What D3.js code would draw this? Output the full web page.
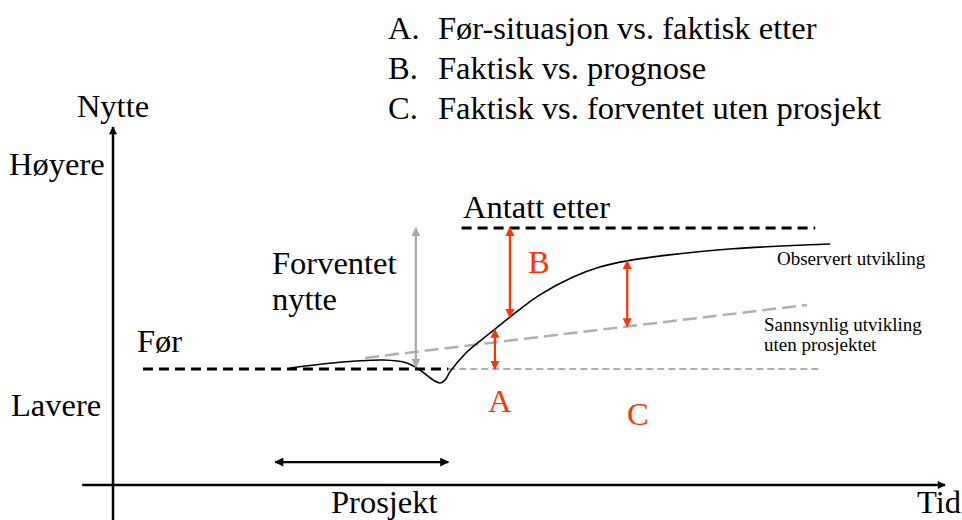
<!DOCTYPE html>
<html><head><meta charset="utf-8">
<script src="https://cdn.jsdelivr.net/npm/d3@7"></script>
<style>
html,body{margin:0;padding:0;background:#fff;}
svg{display:block;}
</style></head>
<body>
<svg id="chart" width="962" height="520"></svg>
<script>
// ---- data (abstract units: time 0..100, nytte 0..100) ----
const legendKeys = ["A.", "B.", "C."];
const legendTexts = ["Før-situasjon vs. faktisk etter", "Faktisk vs. prognose", "Faktisk vs. forventet uten prosjekt"];
const levelFor = 32.4;          // "Før" level
const levelAntatt = 71.8;       // "Antatt etter" level
const forSpan = [3.6, 40.3];
const baselineSpan = [40.3, 85.2];
const antattSpan = [41.9, 84.4];
const observedT = [21.3, 26.4, 32.5, 35.3, 36.9, 38.5, 39.3, 39.9, 40.5, 42.3, 44.1, 46.2, 47.7, 51.3, 55.3, 58.5, 61.8, 66.6, 74.5, 86.2];
const observedV = [32.7, 34.1, 34.9, 34.1, 32.1, 29.3, 28.5, 29.3, 31.6, 36.6, 40.2, 44.1, 46.9, 53.1, 58.1, 60.9, 62.6, 64.2, 66.0, 67.3];
const trendT = [30.3, 83.4];
const trendV = [35.5, 50.3];
const forventetArrow = {t: 36.4, from: 32.9, to: 71.8};
const redArrowT = [45.9, 47.7, 61.8];
const redArrowFrom = [32.4, 46.9, 44.3];
const redArrowTo = [43.4, 71.8, 62.6];
const prosjektSpan = [19.5, 40.3];
const prosjektLevel = 6.4;

// ---- scales ----
const svg = d3.select("#chart");
const x = d3.scaleLinear().domain([0, 100]).range([113, 945]);
const y = d3.scaleLinear().domain([0, 100]).range([485, 127]);

const RED = "#ff3300", GRAY = "#b0b0b0", GRAY_ARROW = "#a8a8a8";
const FONT = "'Liberation Serif', Tinos, 'Times New Roman', Times, 'DejaVu Serif', serif";

// markers
const defs = svg.append("defs");
function marker(id, color, w, h) {
  const m = defs.append("marker").attr("id", id)
    .attr("viewBox", "0 0 10 10").attr("refX", 9).attr("refY", 5)
    .attr("markerUnits", "userSpaceOnUse")
    .attr("markerWidth", w).attr("markerHeight", h)
    .attr("orient", "auto-start-reverse");
  m.append("path").attr("d", "M0,0 L10,5 L0,10 z").attr("fill", color);
}
marker("mBlack", "#000", 11, 9);
marker("mAxis", "#000", 9, 8);
marker("mRed", RED, 11, 9);
marker("mGray", GRAY_ARROW, 11, 9);

// axes
svg.append("line").attr("x1", x(0)).attr("x2", x(0)).attr("y1", y(-10)).attr("y2", y(100))
  .attr("stroke", "#000").attr("stroke-width", 2.5).attr("marker-end", "url(#mAxis)");
svg.append("line").attr("x1", x(-3.7)).attr("x2", x(100)).attr("y1", y(0)).attr("y2", y(0))
  .attr("stroke", "#000").attr("stroke-width", 2.5).attr("marker-end", "url(#mAxis)");

// baseline gray dashed (C reference)
svg.append("line").attr("x1", x(baselineSpan[0])).attr("x2", x(baselineSpan[1]))
  .attr("y1", y(levelFor)).attr("y2", y(levelFor))
  .attr("stroke", GRAY).attr("stroke-width", 2).attr("stroke-dasharray", "7,4");

// trend (sannsynlig utvikling)
svg.append("line").attr("x1", x(trendT[0])).attr("x2", x(trendT[1]))
  .attr("y1", y(trendV[0])).attr("y2", y(trendV[1]))
  .attr("stroke", GRAY).attr("stroke-width", 2.5).attr("stroke-dasharray", "14,6");

// Før dashed
svg.append("line").attr("x1", x(forSpan[0])).attr("x2", x(forSpan[1]))
  .attr("y1", y(levelFor)).attr("y2", y(levelFor))
  .attr("stroke", "#000").attr("stroke-width", 3).attr("stroke-dasharray", "10,6");

// Antatt etter dashed
svg.append("line").attr("x1", x(antattSpan[0])).attr("x2", x(antattSpan[1]))
  .attr("y1", y(levelAntatt)).attr("y2", y(levelAntatt))
  .attr("stroke", "#000").attr("stroke-width", 3).attr("stroke-dasharray", "10,6");

// observed curve
const obs = observedT.map((t, i) => [t, observedV[i]]);
svg.append("path").datum(obs)
  .attr("d", d3.line().x(d => x(d[0])).y(d => y(d[1])).curve(d3.curveCatmullRom.alpha(0.5)))
  .attr("fill", "none").attr("stroke", "#000").attr("stroke-width", 1.6);

// forventet nytte gray arrow
svg.append("line").attr("x1", x(forventetArrow.t)).attr("x2", x(forventetArrow.t))
  .attr("y1", y(forventetArrow.from)).attr("y2", y(forventetArrow.to))
  .attr("stroke", GRAY_ARROW).attr("stroke-width", 2.2)
  .attr("marker-start", "url(#mGray)").attr("marker-end", "url(#mGray)");

// red arrows
redArrowT.forEach((t, i) => {
  svg.append("line").attr("x1", x(t)).attr("x2", x(t))
    .attr("y1", y(redArrowFrom[i])).attr("y2", y(redArrowTo[i]))
    .attr("stroke", RED).attr("stroke-width", 2.2)
    .attr("marker-start", "url(#mRed)").attr("marker-end", "url(#mRed)");
});

// prosjekt arrow
svg.append("line").attr("x1", x(prosjektSpan[0])).attr("x2", x(prosjektSpan[1]))
  .attr("y1", y(prosjektLevel)).attr("y2", y(prosjektLevel))
  .attr("stroke", "#000").attr("stroke-width", 2.2)
  .attr("marker-start", "url(#mBlack)").attr("marker-end", "url(#mBlack)");

// ---- texts ----
const FS = 32.5;
function txt(str, px, py, size, color, anchor) {
  svg.append("text").attr("x", px).attr("y", py)
    .attr("font-family", FONT).attr("font-size", size)
    .attr("fill", color || "#000").attr("text-anchor", anchor || "start").text(str);
}
legendKeys.forEach((k, i) => {
  const by = 39 + i * 40;
  txt(k, 388, by, FS);
  txt(legendTexts[i], 438, by, FS);
});
txt("Nytte", x(0), 117, FS, "#000", "middle");
txt("Høyere", 9, 175, FS);
txt("Lavere", 11, 416, FS);
txt("Før", 137, 352, FS);
txt("Antatt etter", 463, 218, FS);
txt("Forventet", 272, 274, FS);
txt("nytte", 272, 310, FS);
txt("Prosjekt", 331, 513, FS);
txt("Tid", 917, 513, FS);
txt("B", 528, 273, FS, RED);
txt("A", 488, 412, FS, RED);
txt("C", 627, 425, FS, RED);
txt("Observert utvikling", 777, 265, 19);
txt("Sannsynlig utvikling", 764, 331, 19);
txt("uten prosjektet", 764, 351, 19);
</script>
</body></html>
